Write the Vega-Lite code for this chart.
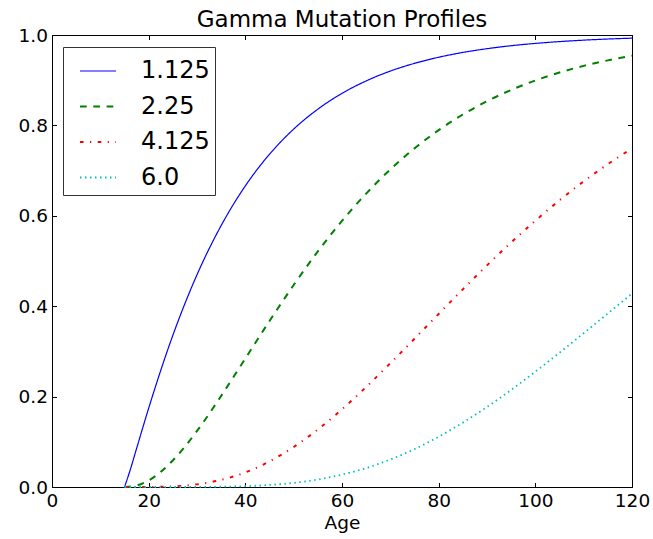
{
  "$schema": "https://vega.github.io/schema/vega-lite/v6.json",
  "width": 580,
  "height": 452,
  "autosize": {"type": "none"},
  "padding": {"left": 52, "top": 35, "right": 21, "bottom": 52},
  "background": "white",
  "title": {"text": "Gamma Mutation Profiles", "fontSize": 23, "font": "DejaVu Sans", "fontWeight": "normal", "color": "black", "offset": -6, "anchor": "middle"},
  "config": {
    "view": {"stroke": null},
    "font": "DejaVu Sans",
    "axis": {"grid": false, "domainColor": "black", "tickColor": "black", "labelColor": "black", "labelFontSize": 18.5, "titleFontSize": 18.5, "titleFontWeight": "normal", "titleColor": "black", "tickSize": -4.5, "domainWidth": 1, "tickWidth": 1, "labelFont": "DejaVu Sans", "titleFont": "DejaVu Sans", "labelFlush": false, "labelOverlap": false},
    "legend": {"orient": "none", "legendX": 11, "legendY": 12, "padding": 5, "symbolOffset": 11, "labelOffset": 24, "symbolType": "stroke", "symbolSize": 1296, "symbolStrokeWidth": 1.5, "labelFontSize": 24, "labelFont": "DejaVu Sans", "labelColor": "black", "rowPadding": 4.5, "strokeColor": "#333333", "fillColor": "white", "cornerRadius": 0, "titlePadding": 0}
  },
  "data": {"values": [
    {"profile": "1.125", "age": 15, "p": 0},
    {"profile": "1.125", "age": 16, "p": 0.0316},
    {"profile": "1.125", "age": 17.5, "p": 0.0852},
    {"profile": "1.125", "age": 20, "p": 0.1743},
    {"profile": "1.125", "age": 25, "p": 0.3355},
    {"profile": "1.125", "age": 30, "p": 0.4696},
    {"profile": "1.125", "age": 35, "p": 0.5785},
    {"profile": "1.125", "age": 40, "p": 0.6662},
    {"profile": "1.125", "age": 45, "p": 0.7362},
    {"profile": "1.125", "age": 50, "p": 0.7918},
    {"profile": "1.125", "age": 55, "p": 0.8359},
    {"profile": "1.125", "age": 60, "p": 0.8709},
    {"profile": "1.125", "age": 65, "p": 0.8984},
    {"profile": "1.125", "age": 70, "p": 0.9202},
    {"profile": "1.125", "age": 75, "p": 0.9373},
    {"profile": "1.125", "age": 80, "p": 0.9508},
    {"profile": "1.125", "age": 85, "p": 0.9614},
    {"profile": "1.125", "age": 90, "p": 0.9697},
    {"profile": "1.125", "age": 95, "p": 0.9763},
    {"profile": "1.125", "age": 100, "p": 0.9814},
    {"profile": "1.125", "age": 105, "p": 0.9854},
    {"profile": "1.125", "age": 110, "p": 0.9886},
    {"profile": "1.125", "age": 115, "p": 0.9911},
    {"profile": "1.125", "age": 120, "p": 0.9930},
    {"profile": "2.25", "age": 15, "p": 0},
    {"profile": "2.25", "age": 17.5, "p": 0.0033},
    {"profile": "2.25", "age": 20, "p": 0.0146},
    {"profile": "2.25", "age": 25, "p": 0.0587},
    {"profile": "2.25", "age": 30, "p": 0.1240},
    {"profile": "2.25", "age": 35, "p": 0.2015},
    {"profile": "2.25", "age": 40, "p": 0.2843},
    {"profile": "2.25", "age": 45, "p": 0.3672},
    {"profile": "2.25", "age": 50, "p": 0.4469},
    {"profile": "2.25", "age": 55, "p": 0.5211},
    {"profile": "2.25", "age": 60, "p": 0.5887},
    {"profile": "2.25", "age": 65, "p": 0.6492},
    {"profile": "2.25", "age": 70, "p": 0.7026},
    {"profile": "2.25", "age": 75, "p": 0.7492},
    {"profile": "2.25", "age": 80, "p": 0.7895},
    {"profile": "2.25", "age": 85, "p": 0.8241},
    {"profile": "2.25", "age": 90, "p": 0.8535},
    {"profile": "2.25", "age": 95, "p": 0.8784},
    {"profile": "2.25", "age": 100, "p": 0.8994},
    {"profile": "2.25", "age": 105, "p": 0.9170},
    {"profile": "2.25", "age": 110, "p": 0.9317},
    {"profile": "2.25", "age": 115, "p": 0.9439},
    {"profile": "2.25", "age": 120, "p": 0.9541},
    {"profile": "4.125", "age": 15, "p": 0},
    {"profile": "4.125", "age": 20, "p": 0.0001},
    {"profile": "4.125", "age": 25, "p": 0.0013},
    {"profile": "4.125", "age": 30, "p": 0.0058},
    {"profile": "4.125", "age": 35, "p": 0.0156},
    {"profile": "4.125", "age": 40, "p": 0.0323},
    {"profile": "4.125", "age": 45, "p": 0.0566},
    {"profile": "4.125", "age": 50, "p": 0.0885},
    {"profile": "4.125", "age": 55, "p": 0.1273},
    {"profile": "4.125", "age": 60, "p": 0.1720},
    {"profile": "4.125", "age": 65, "p": 0.2213},
    {"profile": "4.125", "age": 70, "p": 0.2738},
    {"profile": "4.125", "age": 75, "p": 0.3281},
    {"profile": "4.125", "age": 80, "p": 0.3829},
    {"profile": "4.125", "age": 85, "p": 0.4373},
    {"profile": "4.125", "age": 90, "p": 0.4903},
    {"profile": "4.125", "age": 95, "p": 0.5411},
    {"profile": "4.125", "age": 100, "p": 0.5892},
    {"profile": "4.125", "age": 105, "p": 0.6343},
    {"profile": "4.125", "age": 110, "p": 0.6760},
    {"profile": "4.125", "age": 115, "p": 0.7143},
    {"profile": "4.125", "age": 120, "p": 0.7492},
    {"profile": "6.0", "age": 15, "p": 0},
    {"profile": "6.0", "age": 20, "p": 0},
    {"profile": "6.0", "age": 25, "p": 0.00001},
    {"profile": "6.0", "age": 30, "p": 0.00013},
    {"profile": "6.0", "age": 35, "p": 0.0006},
    {"profile": "6.0", "age": 40, "p": 0.0018},
    {"profile": "6.0", "age": 45, "p": 0.0045},
    {"profile": "6.0", "age": 50, "p": 0.0091},
    {"profile": "6.0", "age": 55, "p": 0.0166},
    {"profile": "6.0", "age": 60, "p": 0.0274},
    {"profile": "6.0", "age": 65, "p": 0.0420},
    {"profile": "6.0", "age": 70, "p": 0.0608},
    {"profile": "6.0", "age": 75, "p": 0.0839},
    {"profile": "6.0", "age": 80, "p": 0.1112},
    {"profile": "6.0", "age": 85, "p": 0.1424},
    {"profile": "6.0", "age": 90, "p": 0.1771},
    {"profile": "6.0", "age": 95, "p": 0.2149},
    {"profile": "6.0", "age": 100, "p": 0.2551},
    {"profile": "6.0", "age": 105, "p": 0.2971},
    {"profile": "6.0", "age": 110, "p": 0.3403},
    {"profile": "6.0", "age": 115, "p": 0.3840},
    {"profile": "6.0", "age": 120, "p": 0.4278}
  ]},
  "layer": [
    {
      "mark": {"type": "line", "interpolate": "monotone"},
      "encoding": {
        "x": {"field": "age", "type": "quantitative", "scale": {"domain": [0, 120], "nice": false, "zero": false}, "axis": {"title": "Age", "values": [0, 20, 40, 60, 80, 100, 120], "labelPadding": 9, "titlePadding": 3}},
        "y": {"field": "p", "type": "quantitative", "scale": {"domain": [0, 1], "nice": false}, "axis": {"title": null, "values": [0, 0.2, 0.4, 0.6, 0.8, 1.0], "format": ".1f", "labelPadding": 9}},
        "color": {"field": "profile", "type": "nominal", "scale": {"domain": ["1.125", "2.25", "4.125", "6.0"], "range": ["#0000ff", "#008000", "#ff0000", "#00bfbf"]}, "legend": {"title": null}},
        "strokeDash": {"field": "profile", "type": "nominal", "scale": {"domain": ["1.125", "2.25", "4.125", "6.0"], "range": [[1, 0], [6.7, 6.6], [3.6, 6.4, 1.2, 6.5], [1.5, 3.5]]}, "legend": {"title": null}},
        "strokeWidth": {"field": "profile", "type": "nominal", "scale": {"type": "ordinal", "domain": ["1.125", "2.25", "4.125", "6.0"], "range": [1.2, 2, 2, 1.8]}, "legend": null}
      }
    },
    {
      "mark": {"type": "line", "opacity": 0},
      "encoding": {
        "x": {"field": "age", "type": "quantitative", "axis": {"orient": "top", "title": null, "labels": false, "values": [0, 20, 40, 60, 80, 100, 120]}},
        "y": {"field": "p", "type": "quantitative", "axis": {"orient": "right", "title": null, "labels": false, "values": [0, 0.2, 0.4, 0.6, 0.8, 1.0]}}
      }
    }
  ],
  "resolve": {"axis": {"x": "independent", "y": "independent"}}
}
